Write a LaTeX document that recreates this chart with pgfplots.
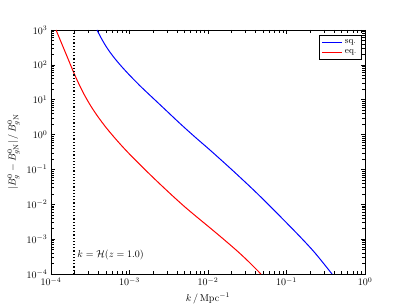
\documentclass[border=0pt]{standalone}
\usepackage{pgfplots}
\pgfplotsset{compat=1.18}
\begin{document}
\begin{tikzpicture}
\path[use as bounding box] (-51pt,-31pt) rectangle (356pt,274pt);
\begin{loglogaxis}[
  at={(0,0)}, anchor=south west,
  scale only axis, width=314pt, height=244pt,
  xmin=1e-4, xmax=1, ymin=1e-4, ymax=1e3,
  xtick={1e-4,1e-3,1e-2,1e-1,1},
  ytick={1e-4,1e-3,1e-2,1e-1,1,1e1,1e2,1e3},
  axis line style={line width=0.8pt},
  every tick/.style={black, line width=0.5pt},
  xlabel={$k\,/\,\mathrm{Mpc}^{-1}$},
  ylabel={$|B^0_g - B^0_{g\mathrm{N}}|\,/\,B^0_{g\mathrm{N}}$},
  legend style={at={(rel axis cs:0.99,0.98)}, anchor=north east, draw=black, line width=0.8pt, font=\small, row sep=1pt},
  legend cell align=left,
  legend image code/.code={\draw[#1, line width=1pt] (0pt,0pt) -- (20pt,0pt);},
]
\addplot[blue, line width=1pt, smooth] coordinates {
(3.855e-4,1000) (4.467e-4,530.9) (5.012e-4,342.8) (5.623e-4,233.3) (6.531e-4,150.0)
(7.943e-4,89.3) (1e-3,50.8) (1.259e-3,29.9) (1.5e-3,20.3) (2.698e-3,5.86)
(4.395e-3,2.08) (6.82e-3,0.853)
(1.059e-2,0.361) (1.905e-2,0.110) (3.26e-2,0.0358) (4.59e-2,0.0171)
(8.26e-2,4.56e-3) (0.1486,1.178e-3) (0.2307,4.02e-4) (0.380,1e-4)
};
\addlegendentry{sq.}
\addplot[red, line width=1pt, smooth] coordinates {
(1.159e-4,1000) (1.585e-4,184.5) (1.995e-4,53.2) (2.512e-4,17.6) (3.162e-4,7.01)
(3.981e-4,3.21) (5.012e-4,1.607) (6.310e-4,0.863) (7.943e-4,0.480) (1e-3,0.276)
(1.259e-3,0.163) (1.778e-3,0.0757) (2.512e-3,0.0359) (3.548e-3,0.01738)
(5.012e-3,8.61e-3) (7.079e-3,4.47e-3) (1e-2,2.355e-3) (1.413e-2,1.23e-3)
(1.995e-2,6.35e-4) (2.512e-2,4.01e-4) (3.162e-2,2.47e-4) (3.981e-2,1.479e-4)
(4.72e-2,1e-4)
};
\addlegendentry{eq.}
\addplot[black, line width=1.2pt, dash pattern=on 1.2pt off 2pt, forget plot] coordinates {(1.96e-4,1e-4) (1.96e-4,1e3)};
\node[anchor=west, inner sep=1pt] at (axis cs:2.1e-4,3.5e-4) {$k=\mathcal{H}(z=1.0)$};
\end{loglogaxis}
\end{tikzpicture}
\end{document}
